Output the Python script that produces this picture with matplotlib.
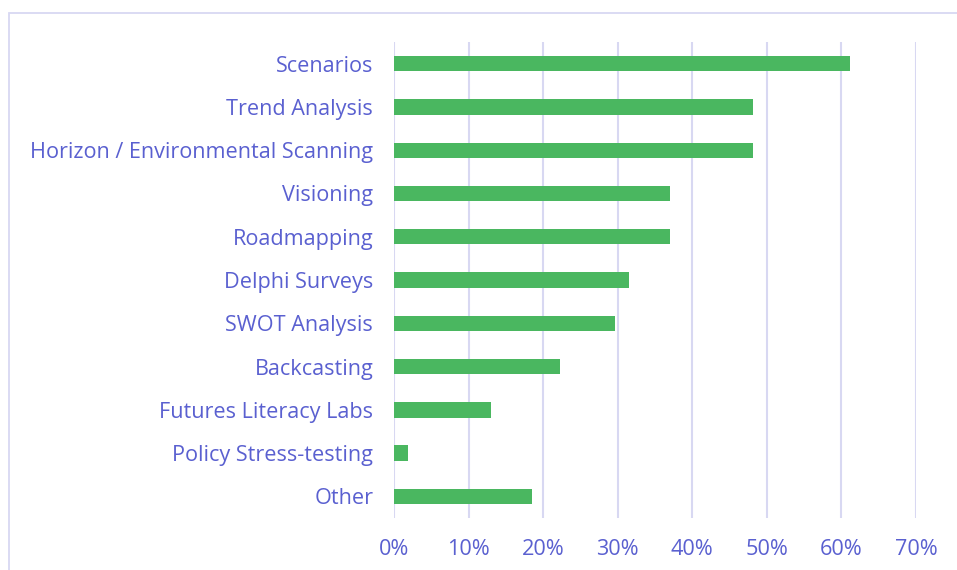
import matplotlib.pyplot as plt
from matplotlib.patches import Rectangle
from matplotlib.ticker import PercentFormatter

FONT_SIZE = 15.6
TEXT_COLOR = '#5A60D0'
BAR_COLOR = '#4AB760'
GRID_COLOR = '#D8D8F2'

methods = ['Scenarios', 'Trend Analysis', 'Horizon / Environmental Scanning',
           'Visioning', 'Roadmapping', 'Delphi Surveys', 'SWOT Analysis',
           'Backcasting', 'Futures Literacy Labs', 'Policy Stress-testing',
           'Other']
# share of respondents (in %)
shares = [61.1, 48.1, 48.1, 37.0, 37.0, 31.5, 29.6, 22.2, 13.0, 1.9, 18.5]
x_ticks = [0, 10, 20, 30, 40, 50, 60, 70]

plt.rcParams['font.family'] = ['Open Sans', 'DejaVu Sans']

fig = plt.figure(figsize=(9.57, 5.70), dpi=100)
ax = fig.add_axes([0.4117, 0.0912, 0.5455, 0.8351])

# frame around the chart (cut off at right and bottom)
fig.patches.append(Rectangle((9 / 957, -0.1), 1.2, 1 - 13.5 / 570 + 0.1,
                             transform=fig.transFigure, fill=False,
                             edgecolor=GRID_COLOR, linewidth=1.3))

ypos = list(range(len(methods)))
ax.barh(ypos, shares, height=0.355, color=BAR_COLOR, zorder=3)

ax.set_ylim(len(methods) - 0.5, -0.5)
ax.set_xlim(0, 70)
ax.set_yticks(ypos)
ax.set_yticklabels(methods)
ax.set_xticks(x_ticks)
ax.xaxis.set_major_formatter(PercentFormatter(decimals=0))

ax.grid(axis='x', color=GRID_COLOR, linewidth=1.5, zorder=0)
for s in ax.spines.values():
    s.set_visible(False)
ax.tick_params(axis='both', length=0, labelsize=FONT_SIZE,
               labelcolor=TEXT_COLOR)
ax.tick_params(axis='y', pad=15)
ax.tick_params(axis='x', pad=15)

fig.savefig('out.png', dpi=100)
